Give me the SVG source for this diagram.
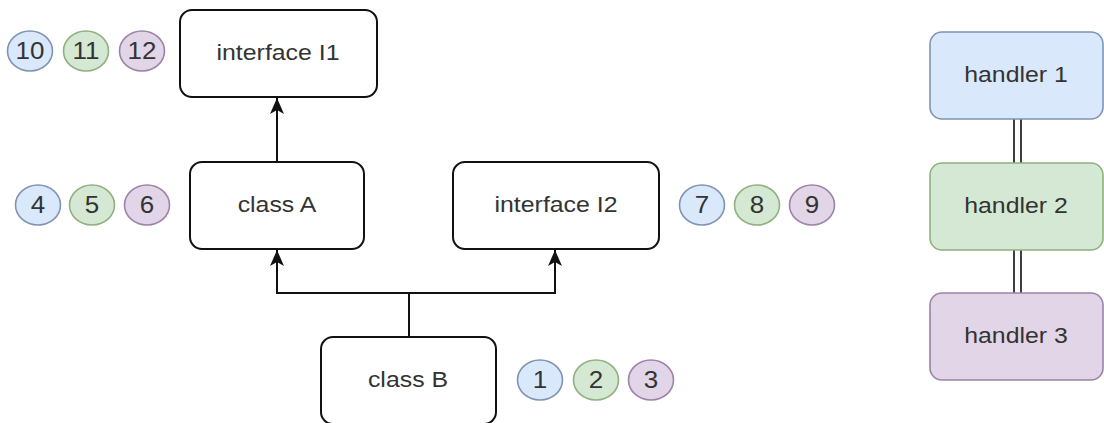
<svg xmlns="http://www.w3.org/2000/svg" width="1104" height="423" viewBox="0 0 1104 423">
  <style>
    .box { fill: #ffffff; stroke: #111111; stroke-width: 2; }
    .blue { fill: #dae8fc; stroke: #7f93b3; stroke-width: 1.6; }
    .green { fill: #d5e8d4; stroke: #8fb07f; stroke-width: 1.6; }
    .purple { fill: #e1d5e7; stroke: #9c83a8; stroke-width: 1.6; }
    .label { font-family: "Liberation Sans", Arial, sans-serif; font-size: 22px; fill: #333333; text-anchor: middle; dominant-baseline: central; }
    .num { font-family: "Liberation Sans", Arial, sans-serif; font-size: 23px; fill: #333333; text-anchor: middle; dominant-baseline: central; }
    .edge { fill: none; stroke: #111111; stroke-width: 2; }
    .link { fill: none; stroke: #111111; stroke-width: 1.6; }
  </style>
  <defs>
    <marker id="arrow" viewBox="0 0 16 16" refX="16" refY="8" markerWidth="16" markerHeight="16" markerUnits="userSpaceOnUse" orient="auto">
      <path d="M16,8 L0,1 L4,8 L0,15 Z" fill="#111111"/>
    </marker>
  </defs>
  <rect width="1104" height="423" fill="#ffffff"/>

  <!-- inheritance connectors -->
  <g id="connectors">
    <path class="edge" d="M277,162 L277,98" marker-end="url(#arrow)"/>
    <path class="edge" d="M409,337 L409,293 L277,293 L277,250" marker-end="url(#arrow)"/>
    <path class="edge" d="M409,293 L555,293 L555,250" marker-end="url(#arrow)"/>
    <!-- double links between handlers -->
    <path class="link" d="M1014,119 L1014,163 M1021,119 L1021,163"/>
    <path class="link" d="M1014,250 L1014,293 M1021,250 L1021,293"/>
  </g>

  <g id="interface-i1">
    <rect class="box" x="180" y="10" width="197" height="87" rx="12"/>
    <text class="label" transform="translate(278,53) scale(1.13,1)">interface I1</text>
  </g>
  <g id="class-a">
    <rect class="box" x="190" y="162" width="174" height="87" rx="12"/>
    <text class="label" transform="translate(277,205) scale(1.13,1)">class A</text>
  </g>
  <g id="interface-i2">
    <rect class="box" x="453" y="162" width="206" height="87" rx="12"/>
    <text class="label" transform="translate(556,205) scale(1.13,1)">interface I2</text>
  </g>
  <g id="class-b">
    <rect class="box" x="321" y="337" width="175" height="87" rx="12"/>
    <text class="label" transform="translate(408,380) scale(1.13,1)">class B</text>
  </g>

  <!-- numbered markers -->
  <g id="badge-10"><ellipse class="blue" cx="30" cy="51" rx="22.5" ry="20"/><text class="num" transform="translate(30,51) scale(1.13,1)">10</text></g>
  <g id="badge-11"><ellipse class="green" cx="86" cy="51" rx="22.5" ry="20"/><text class="num" transform="translate(86,51) scale(1.13,1)">11</text></g>
  <g id="badge-12"><ellipse class="purple" cx="142" cy="51" rx="22.5" ry="20"/><text class="num" transform="translate(142,51) scale(1.13,1)">12</text></g>

  <g id="badge-4"><ellipse class="blue" cx="38" cy="205" rx="22.5" ry="20"/><text class="num" transform="translate(38,205) scale(1.13,1)">4</text></g>
  <g id="badge-5"><ellipse class="green" cx="92" cy="205" rx="22.5" ry="20"/><text class="num" transform="translate(92,205) scale(1.13,1)">5</text></g>
  <g id="badge-6"><ellipse class="purple" cx="147" cy="205" rx="22.5" ry="20"/><text class="num" transform="translate(147,205) scale(1.13,1)">6</text></g>

  <g id="badge-7"><ellipse class="blue" cx="702" cy="205" rx="22.5" ry="20"/><text class="num" transform="translate(702,205) scale(1.13,1)">7</text></g>
  <g id="badge-8"><ellipse class="green" cx="757" cy="205" rx="22.5" ry="20"/><text class="num" transform="translate(757,205) scale(1.13,1)">8</text></g>
  <g id="badge-9"><ellipse class="purple" cx="812" cy="205" rx="22.5" ry="20"/><text class="num" transform="translate(812,205) scale(1.13,1)">9</text></g>

  <g id="badge-1"><ellipse class="blue" cx="540" cy="380" rx="22.5" ry="20"/><text class="num" transform="translate(540,380) scale(1.13,1)">1</text></g>
  <g id="badge-2"><ellipse class="green" cx="596" cy="380" rx="22.5" ry="20"/><text class="num" transform="translate(596,380) scale(1.13,1)">2</text></g>
  <g id="badge-3"><ellipse class="purple" cx="651" cy="380" rx="22.5" ry="20"/><text class="num" transform="translate(651,380) scale(1.13,1)">3</text></g>

  <!-- handler chain -->
  <g id="handler-1">
    <rect class="blue" x="930" y="32" width="173" height="87" rx="12"/>
    <text class="label" transform="translate(1016,75) scale(1.13,1)">handler 1</text>
  </g>
  <g id="handler-2">
    <rect class="green" x="930" y="163" width="173" height="87" rx="12"/>
    <text class="label" transform="translate(1016,206) scale(1.13,1)">handler 2</text>
  </g>
  <g id="handler-3">
    <rect class="purple" x="930" y="293" width="173" height="87" rx="12"/>
    <text class="label" transform="translate(1016,336) scale(1.13,1)">handler 3</text>
  </g>
</svg>
